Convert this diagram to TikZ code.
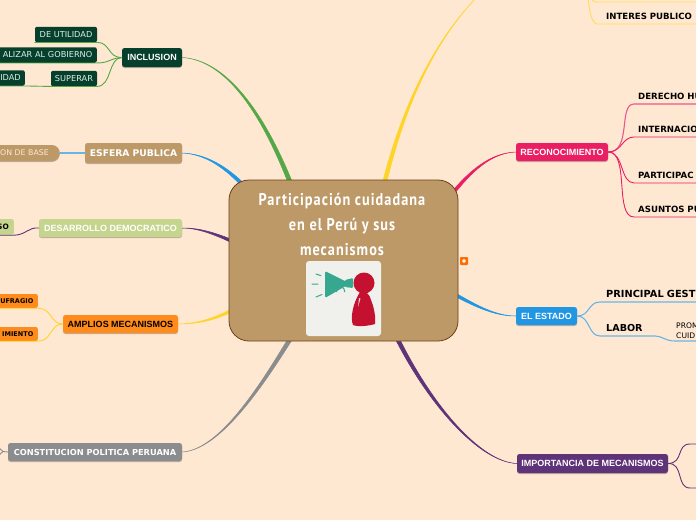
\documentclass[tikz,border=0pt]{standalone}
\usepackage{fontspec}
\usetikzlibrary{calc,shadows}
\newfontfamily\djv{DejaVu Sans}
\newfontfamily\lib{Liberation Sans}
\newfontfamily\titlefont[FakeStretch=0.84,LetterSpace=6]{PT Sans}
\definecolor{bg}{HTML}{FFE8D2}
\definecolor{tan}{HTML}{BD9968}
\definecolor{hubline}{HTML}{6B4218}
\definecolor{dgreen}{HTML}{06402D}
\definecolor{lgreen}{HTML}{54A848}
\definecolor{mblue}{HTML}{2196E3}
\definecolor{lblue}{HTML}{69B4E6}
\definecolor{mpurple}{HTML}{5E3378}
\definecolor{sage}{HTML}{C5D58E}
\definecolor{mor}{HTML}{FF8C1A}
\definecolor{myel}{HTML}{FFD42A}
\definecolor{mgray}{HTML}{8A8C8E}
\definecolor{crim}{HTML}{E91E63}
\definecolor{mint}{HTML}{DCEFE4}
\definecolor{teal}{HTML}{36A890}
\definecolor{mred}{HTML}{C4112F}
\definecolor{paper}{HTML}{F0F0EC}
\newcommand{\taperline}[7]{%
  \path[fill=#1,draw=#1,line width=.5pt,line join=round] (#2) .. controls ($(#3)+0.1*(#6,#7)$) and ($(#4)+0.7*(#6,#7)$) .. ($(#5)+(#6,#7)$)
   -- ($(#5)-(#6,#7)$) .. controls ($(#4)-0.7*(#6,#7)$) and ($(#3)-0.1*(#6,#7)$) .. (#2) -- cycle;}
\tikzset{
  x=1pt,y=-1pt,
  boxed/.style={rounded corners=2.5pt,inner sep=0pt,align=center,minimum height=18pt,
     drop shadow={shadow xshift=0pt,shadow yshift=-1pt,opacity=.25,fill=black}},
  arialbox/.style={boxed,font=\lib\bfseries\fontsize{9}{10}\selectfont},
  djbox/.style={boxed,font=\djv\bfseries\fontsize{8.25}{10}\selectfont,text=white},
  subgreen/.style={rounded corners=2pt,inner sep=0pt,fill=dgreen,text=mint,minimum height=15.5pt,
     font=\djv\fontsize{8.2}{9}\selectfont},
  suborange/.style={rounded corners=2pt,inner sep=0pt,fill=mor,text=black,minimum height=14pt,
     font=\djv\bfseries\fontsize{6.5}{8}\selectfont},
  rtext/.style={anchor=south west,inner xsep=4pt,inner ysep=2pt,text height=6pt,text depth=2pt,align=left,text=black,
     font=\djv\bfseries\fontsize{8.6}{9}\selectfont},
  link/.style={line width=.9pt,line cap=round},
}
\begin{document}
\begin{tikzpicture}
\useasboundingbox (0,0) rectangle (696,520);
\clip (0,0) rectangle (696,520);
\fill[bg] (0,0) rectangle (696,520);

% branch nodes
\node[arialbox,fill=dgreen,text=white,minimum width=60pt,minimum height=19pt] (inclusion) at (152,57.5) {INCLUSION};
\node[djbox,fill=tan,minimum width=97pt,minimum height=20pt,font=\djv\bfseries\fontsize{9.2}{10}\selectfont] (esfera) at (133.5,153) {ESFERA PUBLICA};
\node[arialbox,fill=sage,text=white,minimum width=143pt] (desarrollo) at (110.5,228) {DESARROLLO DEMOCRATICO};
\node[arialbox,fill=mor,text=black,minimum width=115pt] (amplios) at (120.5,324) {AMPLIOS MECANISMOS};
\node[djbox,fill=mgray,minimum width=174pt] (constitucion) at (95,452) {CONSTITUCION POLITICA PERUANA};
\node[arialbox,fill=crim,text=white,minimum width=92pt] (recon) at (562,152) {RECONOCIMIENTO};
\node[arialbox,fill=mblue,text=white,minimum width=61pt] (estado) at (546.5,316) {EL ESTADO};
\node[arialbox,fill=mpurple,text=white,minimum width=151pt,minimum height=19pt] (importancia) at (592.5,463.5) {IMPORTANCIA DE MECANISMOS};

% left sub nodes
\node[subgreen,minimum width=62pt] (utilidad) at (66,34.5) {DE UTILIDAD};
\node[subgreen,anchor=east,text width=115pt,align=right,inner xsep=4.5pt] (fiscal) at (97,55) {ALIZAR AL GOBIERNO};
\node[subgreen,minimum width=46pt] (superar) at (74,78.5) {SUPERAR};
\node[subgreen,anchor=east,text width=40pt,align=right,inner xsep=4pt] (idad) at (25,78) {IDAD};
\node[boxed,anchor=east,fill=tan,text=bg,rounded corners=8pt,minimum height=16pt,text width=80pt,align=right,inner xsep=11pt,
      font=\djv\fontsize{7.8}{9}\selectfont] (base) at (60,153) {ON DE BASE};
\node[anchor=east,fill=sage,rounded corners=2pt,inner sep=0pt,inner xsep=5pt,minimum height=16pt,text width=30pt,align=right,
      font=\djv\bfseries\fontsize{7.4}{9}\selectfont] (so) at (14,227) {SO};
\node[suborange,anchor=east,text width=60pt,align=right,inner xsep=4.5pt] (sufragio) at (38,301) {UFRAGIO};
\node[suborange,anchor=east,text width=60pt,align=right,inner xsep=4.5pt] (miento) at (38,334) {IMIENTO};

% right sub nodes
\node[rtext,text width=90pt] (derecho) at (634,104) {DERECHO HU};
\node[rtext,text width=90pt] (internac) at (634,137) {INTERNACIO};
\node[rtext,text width=90pt] (particip) at (634,183) {PARTICIPAC};
\node[rtext,text width=90pt] (asuntos) at (634,217) {ASUNTOS PU};
\node[rtext,inner xsep=9pt,text width=110pt] (interes) at (597,24) {INTERES PUBLICO};
\node[rtext,inner xsep=6pt,inner ysep=2.5pt,text width=110pt,font=\djv\bfseries\fontsize{9.8}{11}\selectfont] (gestion) at (600,302) {PRINCIPAL GEST};
\node[rtext,inner xsep=6pt,inner ysep=2.5pt,text width=43pt,font=\djv\bfseries\fontsize{9.6}{11}\selectfont] (labor) at (600,336) {LABOR};
\node[anchor=south west,inner xsep=1pt,inner ysep=2pt,text width=40pt,align=left,font=\djv\fontsize{7.6}{10}\selectfont] (prom) at (675,341) {PROM\\CUID};

% free ends
\coordinate (hinc) at (292,187);
\coordinate (hesf) at (246,188);
\coordinate (hdes) at (236,243);
\coordinate (hamp) at (236,308);
\coordinate (hcon) at (292,336);
\coordinate (himp) at (396,336);
\coordinate (hest) at (454,294);
\coordinate (hrec) at (452,194);
\coordinate (htop) at (384,185);
\coordinate (ytop) at (478,-4);
\coordinate (yhub) at (586,-20);
\coordinate (yend) at (597,2);
\coordinate (yfar) at (700,2);
\coordinate (pup) at (690,444);
\coordinate (pupfar) at (700,444);
\coordinate (pdn) at (690,488);
\coordinate (pdnfar) at (700,488);
\coordinate (cup) at (-2,447);
\coordinate (cdn) at (-2,456);
\coordinate (cjoin) at (3,451.5);

% main connectors
\taperline{lgreen}{inclusion.east}{225,60}{262,110}{hinc}{2.0}{-.8}
\taperline{mblue}{esfera.east}{205,154}{225,166}{hesf}{1.3}{-1.3}
\taperline{mpurple}{desarrollo.east}{198,228}{214,233}{hdes}{.5}{-1.5}
\taperline{myel}{amplios.east}{195,324}{215,320}{hamp}{.5}{1.5}
\taperline{mgray}{constitucion.east}{218,450}{258,392}{hcon}{1.8}{1.0}
\taperline{mpurple}{importancia.west}{480,462}{430,405}{himp}{1.7}{-1.0}
\taperline{mblue}{estado.west}{495,316}{476,306}{hest}{.6}{-1.5}
\taperline{crim}{recon.west}{490,153}{470,172}{hrec}{1.2}{1.2}
\taperline{myel}{ytop}{430,45}{401,115}{htop}{2.0}{.5}

% sub connectors
\begin{scope}[link]
\draw[lgreen] (inclusion.west) .. controls (108,58) and (110,42) .. (utilidad.south east) -- (utilidad.south west);
\draw[lgreen] (inclusion.west) .. controls (110,58) and (110,63) .. (fiscal.south east) -- (fiscal.south west);
\draw[lgreen] (inclusion.west) .. controls (108,58) and (112,86) .. (superar.south east) -- (superar.south west) -- (idad.south east) -- (idad.south west);
\draw[lblue,line width=1.1pt] (esfera.west) -- (base.east);
\draw[mpurple] (desarrollo.west) .. controls (28,227) and (26,235) .. (so.south east) -- (so.south west);
\draw[myel] (amplios.west) .. controls (50,324) and (52,308) .. (sufragio.south east) -- (sufragio.south west);
\draw[myel] (amplios.west) .. controls (50,324) and (52,341) .. (miento.south east) -- (miento.south west);
\draw[mgray] (constitucion.west) -- (cjoin) -- (cup);
\draw[mgray] (cjoin) -- (cdn);
\draw[crim!75!white,line width=1.1pt] (recon.east) .. controls (632,152) and (618,104) .. (derecho.south west) -- (derecho.south east);
\draw[crim] (recon.east) .. controls (622,152) and (622,137) .. (internac.south west) -- (internac.south east);
\draw[crim] (recon.east) .. controls (624,152) and (620,183) .. (particip.south west) -- (particip.south east);
\draw[crim] (recon.east) .. controls (630,152) and (614,217) .. (asuntos.south west) -- (asuntos.south east);
\draw[lblue,line width=1.1pt] (estado.east) .. controls (590,316) and (588,302) .. (gestion.south west) -- (gestion.south east);
\draw[lblue,line width=1.1pt] (estado.east) .. controls (590,316) and (588,336) .. (labor.south west) -- (labor.south east) .. controls (662,336) and (665,341) .. (prom.south west) -- (prom.south east);
\draw[mpurple] (importancia.east) .. controls (684,463) and (676,444) .. (pup) -- (pupfar);
\draw[mpurple] (importancia.east) .. controls (684,463) and (676,488) .. (pdn) -- (pdnfar);
\draw[myel!80!white] (yhub) .. controls (589,-8) and (589,2) .. (yend) -- (yfar);
\draw[myel!80!white] (yhub) .. controls (588,0) and (590,24) .. (interes.south west) -- (interes.south east);
\end{scope}

% hub
\node[fill=tan,draw=hubline,line width=.8pt,rounded corners=20pt,minimum width=229pt,minimum height=161pt,inner sep=0pt] (hub) at (343.5,260.5) {};
\node[text=white,align=center,inner sep=0pt,font=\titlefont\bfseries\fontsize{17}{25}\selectfont] (title) at (342,224)
  {Participación cuidadana\\en el Perú y sus\\mecanismos};

% picture in the hub
\node[fill=paper,rounded corners=3pt,minimum width=75pt,minimum height=75pt,inner sep=0pt] (pic) at (343.5,298.5) {};
\fill[teal,rounded corners=1.5pt] (325,271) -- (350,283.5) -- (325,298) -- cycle;
\fill[teal,rounded corners=1pt] (345,280) -- (353,278) -- (353,288) -- (345,287) -- cycle;
\draw[teal,line width=1pt] (336.5,292) arc[start angle=170,end angle=370,radius=4.2];
\draw[teal,line width=1pt,line cap=round] (316,274) -- (321,275.7) (312,284) -- (318,284) (316,297) -- (322,294.5);
\fill[mred] (364,283) circle[radius=10.5];
\fill[mred] (360,292) .. controls (365,290) and (369,293) .. (371,300) .. controls (374,307) and (376,318) .. (375,324) .. controls (368,326) and (358,327) .. (353,325) .. controls (350,318) and (353,303) .. (360,292) -- cycle;
\fill[white,opacity=.8] (359,298) -- (360.5,298.5) -- (358,307) -- cycle;

% small orange mark
\node[fill=orange!85!red,rounded corners=.8pt,minimum width=8pt,minimum height=8pt,inner sep=0pt] (mark) at (464,261) {};
\node[fill=white,rounded corners=1pt,minimum width=3.4pt,minimum height=3.4pt,inner sep=0pt] (markin) at (mark.center) {};
\end{tikzpicture}
\end{document}
